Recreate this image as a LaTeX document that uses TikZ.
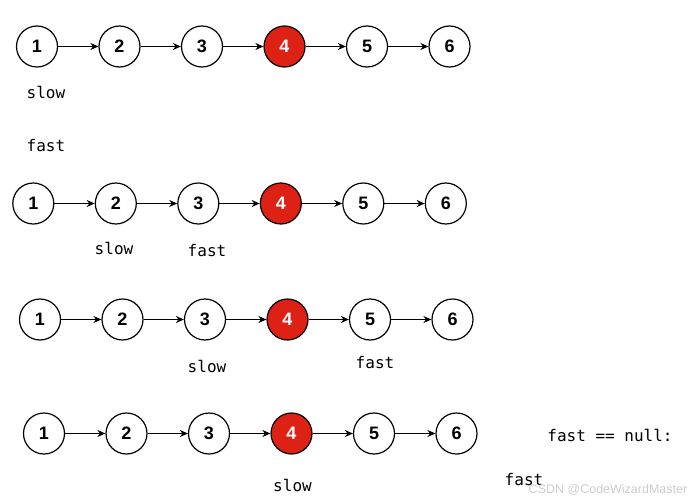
\documentclass[tikz,border=0pt]{standalone}
\usepackage{fontspec}
\setmainfont{Liberation Sans}
\newfontfamily\labfont{DejaVu Sans Mono}
\usetikzlibrary{arrows.meta}
\definecolor{nodered}{RGB}{221,33,20}
\definecolor{wmgray}{RGB}{205,205,205}
\tikzset{
  lnode/.style={circle, draw=black, line width=1.2pt, fill=white, minimum size=41pt, inner sep=0pt, font=\fontsize{18}{18}\selectfont\bfseries},
  rednode/.style={lnode, fill=nodered, text=white},
  link/.style={-{Stealth[length=8pt,width=7pt]}, line width=1.1pt},
  ptr/.style={font=\labfont\fontsize{16}{16}\selectfont, inner sep=0pt}
}
\newcommand{\listrow}[3]{%
  \foreach \i in {1,...,6} {
    \pgfmathsetmacro{\xx}{#2+(\i-1)*82.5}
    \ifnum\i=4
      \node[rednode] (#1\i) at (\xx,#3) {\i};
    \else
      \node[lnode] (#1\i) at (\xx,#3) {\i};
    \fi
  }
  \foreach \i/\j in {1/2,2/3,3/4,4/5,5/6} {
    \draw[link] (#1\i) -- (#1\j);
  }
}
\begin{document}
\begin{tikzpicture}[x=1pt,y=-1pt]
\useasboundingbox (0,0) rectangle (690,500);
\listrow{a}{37}{46.5}
\listrow{b}{33.3}{203.5}
\listrow{c}{40}{319.5}
\listrow{d}{44}{433.5}
% labels
\node[ptr] (aslow) at (46,92.5) {slow};
\node[ptr] (afast) at (46,146) {fast};
\node[ptr] (bslow) at (114,248.5) {slow};
\node[ptr] (bfast) at (207,251) {fast};
\node[ptr] (cslow) at (207,366) {slow};
\node[ptr] (cfast) at (375,363) {fast};
\node[ptr] (dslow) at (292.5,485) {slow};
\node[ptr] (dnull) at (610,435.5) {fast == null:};
\node[ptr] (dfast) at (524,480) {fast};
\node[font=\fontsize{12.5}{13}\selectfont, text=wmgray, inner sep=0pt] (wm) at (608,490) {CSDN @CodeWizardMaster};
\end{tikzpicture}
\end{document}
